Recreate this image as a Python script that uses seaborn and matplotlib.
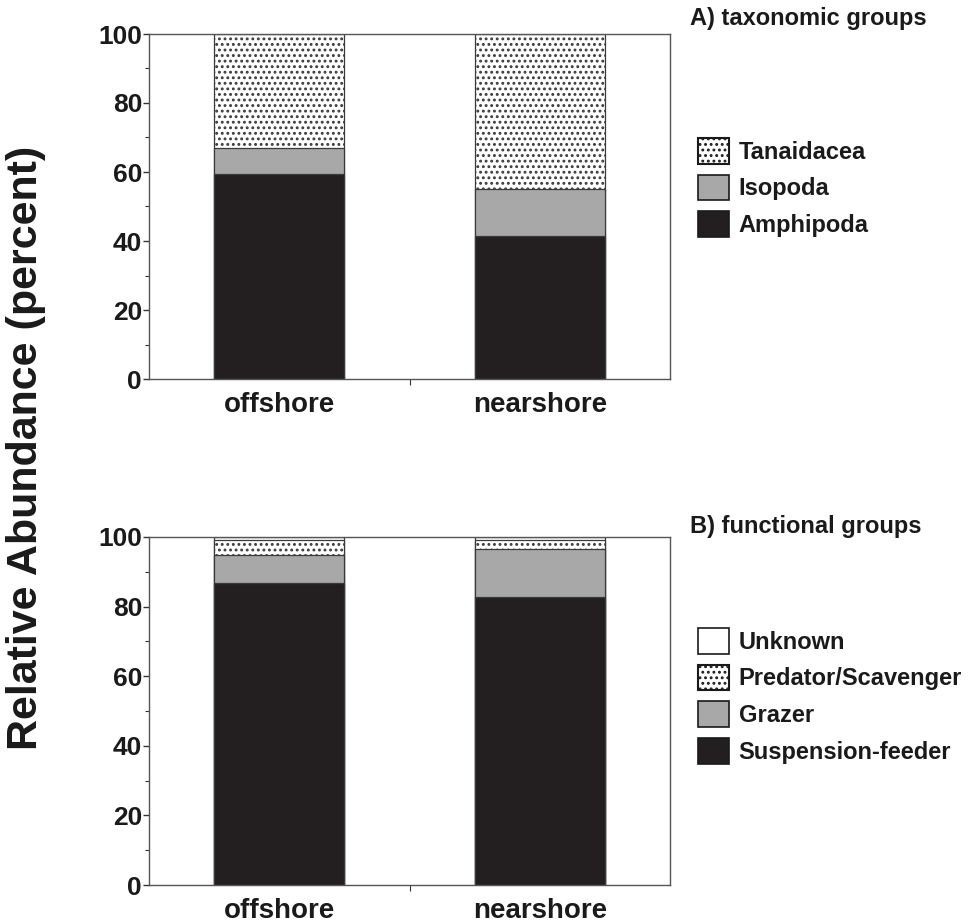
import matplotlib
matplotlib.use("Agg")
import matplotlib.pyplot as plt
import seaborn as sns
import pandas as pd
import numpy as np
from matplotlib.patches import Patch
from matplotlib.ticker import MultipleLocator, FixedLocator

# ---- data ----
sites = ["offshore", "nearshore"]
amphipoda = [59.4, 41.5]
isopoda = [7.5, 13.7]
tanaidacea = [33.1, 44.8]

suspension = [86.8, 82.7]
grazer = [8.0, 13.8]
predator = [4.2, 2.5]
unknown = [1.0, 1.0]

tax_labels = ["Tanaidacea", "Isopoda", "Amphipoda"]
fun_labels = ["Unknown", "Predator/Scavenger", "Grazer", "Suspension-feeder"]

BLACK = "#231f20"
GRAY = "#a8a8a8"
EDGE = "#3a3a3a"
TXT = "#1a1a1a"

sns.set_style("ticks")
plt.rcParams["font.family"] = ["Liberation Sans", "DejaVu Sans"]
plt.rcParams["font.weight"] = "bold"
plt.rcParams["hatch.linewidth"] = 1.3
plt.rcParams["hatch.color"] = "#1a1a1a"

fig = plt.figure(figsize=(9.71, 9.22), dpi=100)
axA = fig.add_axes([149 / 971, (922 - 379) / 922, 521 / 971, 345 / 922])
axB = fig.add_axes([149 / 971, (922 - 885) / 922, 521 / 971, 348 / 922])


def stacked(ax, layers):
    # layers: list of (values, color, hatch) from bottom to top
    cums = np.cumsum([np.array(v) for v, _, _ in layers], axis=0)
    for i in range(len(layers) - 1, -1, -1):
        _, col, hatch = layers[i]
        df = pd.DataFrame({"site": sites, "value": cums[i]})
        sns.barplot(data=df, x="site", y="value", color=col, width=0.5,
                    edgecolor=EDGE, linewidth=0.9, hatch=hatch,
                    saturation=1, ax=ax, errorbar=None)


stacked(axA, [(amphipoda, BLACK, None), (isopoda, GRAY, None), (tanaidacea, "white", "...")])
stacked(axB, [(suspension, BLACK, None), (grazer, GRAY, None), (predator, "white", "..."),
              (unknown, "white", None)])

for ax in (axA, axB):
    ax.set_ylim(0, 100)
    ax.set_xlim(-0.5, 1.5)
    ax.set_xlabel("")
    ax.set_ylabel("")
    ax.yaxis.set_major_locator(MultipleLocator(20))
    ax.yaxis.set_minor_locator(MultipleLocator(10))
    ax.xaxis.set_minor_locator(FixedLocator([0.5]))
    ax.tick_params(axis="y", which="major", length=4, width=1, labelsize=19, pad=1, color="#333333")
    ax.tick_params(axis="y", which="minor", length=3, width=0.8, color="#333333")
    ax.tick_params(axis="x", which="major", length=0, labelsize=20, pad=9)
    ax.tick_params(axis="x", which="minor", length=4, width=0.8, color="#333333")
    for s in ax.spines.values():
        s.set_visible(True)
        s.set_color("#555555")
        s.set_linewidth(1.0)
    for lab in ax.get_xticklabels() + ax.get_yticklabels():
        lab.set_fontweight("bold")
        lab.set_color(TXT)

fig.text(26 / 971, 1 - 448 / 922, "Relative Abundance (percent)", rotation=90,
         ha="center", va="center", fontsize=31, fontweight="bold", color=TXT)
fig.text(690 / 971, 1 - 18 / 922, "A) taxonomic groups", ha="left", va="center",
         fontsize=17, fontweight="bold", color=TXT)
fig.text(690 / 971, 1 - 527 / 922, "B) functional groups", ha="left", va="center",
         fontsize=17, fontweight="bold", color=TXT)

handlesA = [Patch(facecolor="white", edgecolor=TXT, linewidth=1.5, hatch="...", label=tax_labels[0]),
            Patch(facecolor=GRAY, edgecolor=TXT, linewidth=1.2, label=tax_labels[1]),
            Patch(facecolor=BLACK, edgecolor=TXT, linewidth=1.2, label=tax_labels[2])]
handlesB = [Patch(facecolor="white", edgecolor=TXT, linewidth=1.2, label=fun_labels[0]),
            Patch(facecolor="white", edgecolor=TXT, linewidth=1.5, hatch="...", label=fun_labels[1]),
            Patch(facecolor=GRAY, edgecolor=TXT, linewidth=1.2, label=fun_labels[2]),
            Patch(facecolor=BLACK, edgecolor=TXT, linewidth=1.2, label=fun_labels[3])]

legkw = dict(frameon=False, handlelength=1.3, handleheight=1.3, handletextpad=0.42,
             labelspacing=0.46, borderpad=0, borderaxespad=0,
             prop={"size": 17, "weight": "bold"}, loc="upper left")
legA = fig.legend(handles=handlesA, bbox_to_anchor=(698 / 971, 1 - 138 / 922), **legkw)
legB = fig.legend(handles=handlesB, bbox_to_anchor=(698 / 971, 1 - 628 / 922), **legkw)
for leg in (legA, legB):
    for t in leg.get_texts():
        t.set_color(TXT)

fig.savefig("out.png", dpi=100)
